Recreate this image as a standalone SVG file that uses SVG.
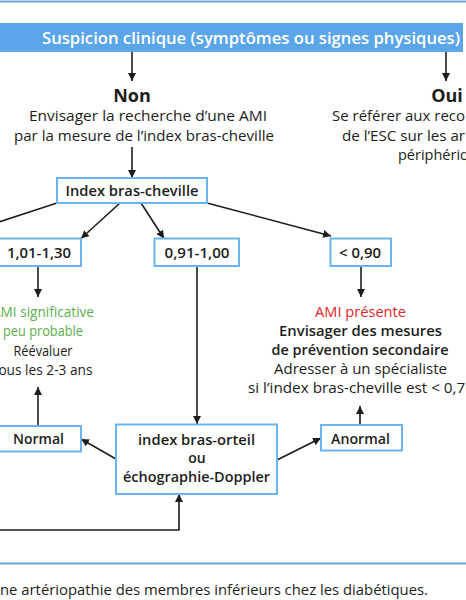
<svg xmlns="http://www.w3.org/2000/svg" width="466" height="600" viewBox="0 0 466 600">
<style>
text{font-family:"Open Sans","DejaVu Sans",sans-serif;fill:#1d1d1b}
.r{font-size:14.5px}
.b{font-size:14px;font-weight:600}
.h{font-size:18px;font-weight:700}
.m{text-anchor:middle}
.g{fill:#5cae4e}
.red{fill:#e3262b}
.w{fill:#fff;font-size:16px;font-weight:600}
.box{fill:#fff;stroke:#6cb4f0;stroke-width:2}
.ln{fill:none;stroke:#1d1d1b;stroke-width:1.6}
.arr{marker-end:url(#ah)}
.rule{stroke:#6aa6de;stroke-width:2}
</style>
<defs>
<marker id="ah" viewBox="0 0 10 10" refX="10" refY="5" markerWidth="8" markerHeight="8" markerUnits="userSpaceOnUse" orient="auto"><path d="M0,0L10,5L0,10z" fill="#1d1d1b"/></marker>
</defs>
<line class="rule" x1="0" y1="1.5" x2="466" y2="1.5"/>
<line class="rule" x1="0" y1="563.5" x2="466" y2="563.5"/>

<g id="banner">
<rect x="-5" y="23" width="468" height="29" fill="#5ba6e8"/>
<text class="w" x="42" y="44" textLength="418" lengthAdjust="spacingAndGlyphs">Suspicion clinique (symptômes ou signes physiques)</text>
</g>

<g id="connectors">
<path class="ln arr" d="M132,52V81"/>
<path class="ln arr" d="M446,52V81"/>
<path class="ln arr" d="M132,147V178"/>
<path class="ln" d="M57,203L-10,225"/>
<path class="ln arr" d="M120,203L81,238.5"/>
<path class="ln arr" d="M141,203L164,238.5"/>
<path class="ln arr" d="M207,203L331,236"/>
<path class="ln arr" d="M38,266V297"/>
<path class="ln arr" d="M361,266V297"/>
<path class="ln arr" d="M197,266V424"/>
<path class="ln arr" d="M116,459L81,439"/>
<path class="ln arr" d="M277,460L321,438"/>
<path class="ln arr" d="M38,426V387"/>
<path class="ln arr" d="M360,425V406"/>
<path class="ln arr" d="M-10,530H179V494"/>
</g>

<g id="non">
<text class="h m" x="132" y="102">Non</text>
<text class="r m" x="148" y="121" textLength="238" lengthAdjust="spacingAndGlyphs">Envisager la recherche d’une AMI</text>
<text class="r m" x="144" y="141" textLength="260" lengthAdjust="spacingAndGlyphs">par la mesure de l’index bras-cheville</text>
</g>

<g id="oui">
<text class="h m" x="447" y="102">Oui</text>
<text class="r" x="332" y="121" textLength="133" lengthAdjust="spacingAndGlyphs">Se référer aux reco</text>
<text class="r" x="342" y="141" textLength="123" lengthAdjust="spacingAndGlyphs">de l’ESC sur les ar</text>
<text class="r" x="398" y="160">périphériq</text>
</g>

<g id="index">
<rect class="box" x="57" y="178" width="150" height="25"/>
<text class="b m" x="132" y="196" textLength="133" lengthAdjust="spacingAndGlyphs">Index bras-cheville</text>
</g>

<g id="r1">
<rect class="box" x="-4" y="238.5" width="85" height="27.5"/>
<text class="b m" x="39" y="258" textLength="64" lengthAdjust="spacingAndGlyphs">1,01-1,30</text>
</g>
<g id="r2">
<rect class="box" x="154.5" y="238.5" width="84.5" height="27.5"/>
<text class="b m" x="197" y="258" textLength="65" lengthAdjust="spacingAndGlyphs">0,91-1,00</text>
</g>
<g id="r3">
<rect class="box" x="330.5" y="238.5" width="60.5" height="27.5"/>
<text class="b m" x="360" y="258" textLength="42" lengthAdjust="spacingAndGlyphs">&lt; 0,90</text>
</g>

<g id="normal-result">
<text class="r m g" x="43" y="317" textLength="102" lengthAdjust="spacingAndGlyphs">AMI significative</text>
<text class="r m g" x="43" y="336" textLength="80" lengthAdjust="spacingAndGlyphs">peu probable</text>
<text class="r m" x="43" y="356" textLength="59" lengthAdjust="spacingAndGlyphs">Réévaluer</text>
<text class="r m" x="43" y="375" textLength="99" lengthAdjust="spacingAndGlyphs">tous les 2-3 ans</text>
</g>

<g id="ami-result">
<text class="r m red" x="360.5" y="317" textLength="91" lengthAdjust="spacingAndGlyphs">AMI présente</text>
<text class="b m" x="360.5" y="336" textLength="163" lengthAdjust="spacingAndGlyphs">Envisager des mesures</text>
<text class="b m" x="360" y="355" textLength="177" lengthAdjust="spacingAndGlyphs">de prévention secondaire</text>
<text class="r m" x="360.5" y="374" textLength="173" lengthAdjust="spacingAndGlyphs">Adresser à un spécialiste</text>
<text class="r" x="248" y="393" textLength="226" lengthAdjust="spacingAndGlyphs">si l’index bras-cheville est &lt; 0,70</text>
</g>

<g id="normal">
<rect class="box" x="-4" y="426" width="85" height="25.5"/>
<text class="b m" x="38.5" y="444" textLength="51" lengthAdjust="spacingAndGlyphs">Normal</text>
</g>

<g id="orteil">
<rect class="box" x="116" y="424.5" width="161" height="69.5"/>
<text class="b m" x="196.5" y="445" textLength="117" lengthAdjust="spacingAndGlyphs">index bras-orteil</text>
<text class="b m" x="197" y="463">ou</text>
<text class="b m" x="196.5" y="482" textLength="147" lengthAdjust="spacingAndGlyphs">échographie-Doppler</text>
</g>

<g id="anormal">
<rect class="box" x="321" y="425" width="81" height="25.5"/>
<text class="b m" x="360.5" y="443.5" textLength="59" lengthAdjust="spacingAndGlyphs">Anormal</text>
</g>

<text class="r" x="0" y="595" textLength="428" lengthAdjust="spacingAndGlyphs">ne artériopathie des membres inférieurs chez les diabétiques.</text>
</svg>
